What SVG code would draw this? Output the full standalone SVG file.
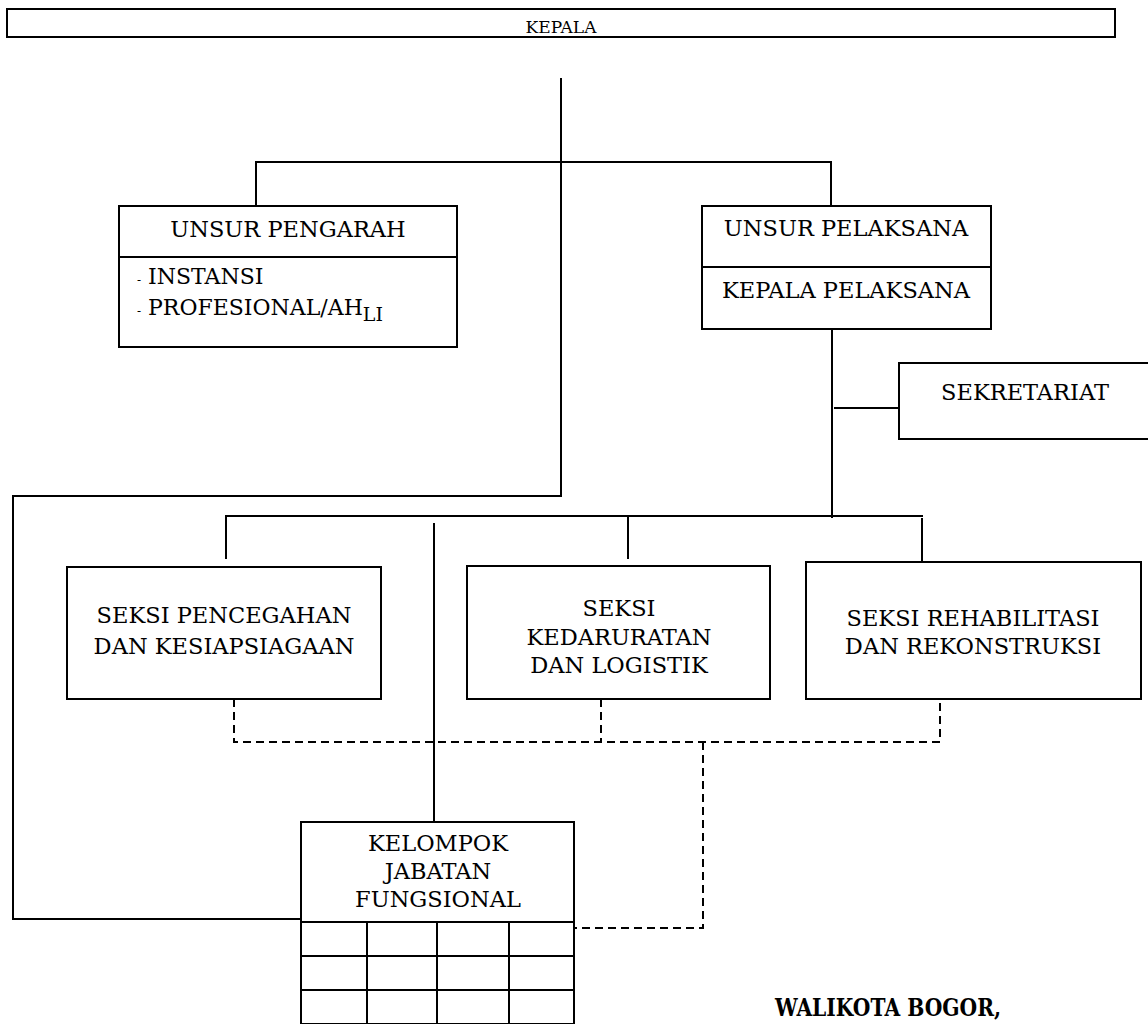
<svg xmlns="http://www.w3.org/2000/svg" width="1148" height="1024" viewBox="0 0 1148 1024">
<style>
.box{fill:#fff;stroke:#000;stroke-width:2}
.ln{fill:none;stroke:#000;stroke-width:2}
.dash{fill:none;stroke:#000;stroke-width:2;stroke-dasharray:8 5}
text{font-family:"DejaVu Serif","Liberation Serif",serif;fill:#000;font-size:22.5px}
.c{text-anchor:middle}
</style>
<rect width="1148" height="1024" fill="#fff"/>
<g id="connectors">
<polyline class="ln" points="561,78 561,496 13,496 13,919 301,919"/>
<polyline class="ln" points="256,206 256,162 831,162 831,206"/>
<line class="ln" x1="832" y1="329" x2="832" y2="518"/>
<line class="ln" x1="834" y1="408" x2="899" y2="408"/>
<polyline class="ln" points="226,559 226,516 923,516"/>
<line class="ln" x1="628" y1="516" x2="628" y2="559"/>
<line class="ln" x1="922" y1="518" x2="922" y2="562"/>
<line class="ln" x1="434" y1="523" x2="434" y2="822"/>
<polyline class="dash" points="234,699 234,742 940,742 940,699"/>
<line class="dash" x1="601" y1="699" x2="601" y2="742"/>
<polyline class="dash" points="703,742 703,928 575,928"/>
</g>
<g id="kepala">
<rect class="box" x="7" y="9" width="1108" height="28"/>
<text class="c" x="561" y="33" style="font-size:17px">KEPALA</text>
</g>
<g id="unsur-pengarah">
<rect class="box" x="119" y="206" width="338" height="141"/>
<line class="ln" x1="119" y1="257" x2="457" y2="257"/>
<text class="c" x="288" y="237">UNSUR PENGARAH</text>
<text x="137" y="284" style="font-size:22px"><tspan style="font-size:12px">-</tspan> INSTANSI</text>
<text x="137" y="315" style="font-size:22px"><tspan style="font-size:12px">-</tspan> PROFESIONAL/AH<tspan dy="6" style="font-size:19px">LI</tspan></text>
</g>
<g id="unsur-pelaksana">
<rect class="box" x="702" y="206" width="289" height="123"/>
<line class="ln" x1="702" y1="267" x2="991" y2="267"/>
<text class="c" x="846" y="236">UNSUR PELAKSANA</text>
<text class="c" x="846" y="298">KEPALA PELAKSANA</text>
</g>
<g id="sekretariat">
<rect class="box" x="899" y="363" width="260" height="76"/>
<text class="c" x="1025" y="400">SEKRETARIAT</text>
</g>
<g id="seksi-pencegahan">
<rect class="box" x="67" y="567" width="314" height="132"/>
<text class="c" x="224" y="623">SEKSI PENCEGAHAN</text>
<text class="c" x="224" y="654">DAN KESIAPSIAGAAN</text>
</g>
<g id="seksi-kedaruratan">
<rect class="box" x="467" y="566" width="303" height="133"/>
<text class="c" x="619" y="616">SEKSI</text>
<text class="c" x="619" y="645">KEDARURATAN</text>
<text class="c" x="619" y="673">DAN LOGISTIK</text>
</g>
<g id="seksi-rehabilitasi">
<rect class="box" x="806" y="562" width="335" height="137"/>
<text class="c" x="973" y="626">SEKSI REHABILITASI</text>
<text class="c" x="973" y="654">DAN REKONSTRUKSI</text>
</g>
<g id="kelompok-jabatan-fungsional">
<rect class="box" x="301" y="822" width="273" height="202"/>
<text class="c" x="438" y="851">KELOMPOK</text>
<text class="c" x="438" y="879">JABATAN</text>
<text class="c" x="438" y="907">FUNGSIONAL</text>
<path class="ln" d="M301,922H574M301,956H574M301,990H574M367,922V1024M437,922V1024M509,922V1024"/>
</g>
<text x="775" y="1016" textLength="226" lengthAdjust="spacingAndGlyphs" style="font-size:24px;font-weight:bold">WALIKOTA BOGOR,</text>
</svg>
